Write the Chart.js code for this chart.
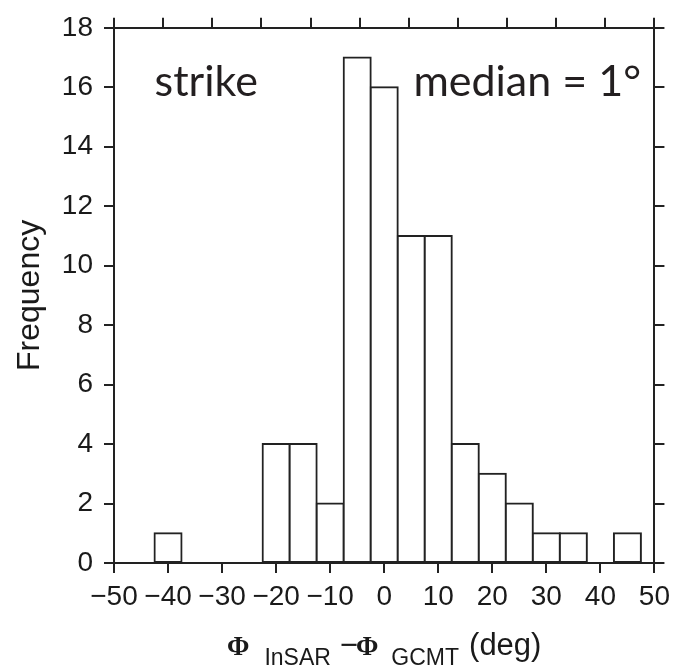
<!DOCTYPE html>
<html><head><meta charset="utf-8">
<script src="https://cdn.jsdelivr.net/npm/chart.js@4.4.1/dist/chart.umd.min.js"></script>
<style>html,body{margin:0;padding:0;background:#fff;}#wrap{width:677px;height:668px;}</style>
</head><body><div id="wrap"><canvas id="c" width="677" height="668"></canvas></div>
<script>
// ---- data ----
const binCenters  = [-40, -20, -15, -10, -5, 0, 5, 10, 15, 20, 25, 30, 35, 45];
const frequencies = [1, 4, 4, 2, 17, 16, 11, 11, 4, 3, 2, 1, 1, 1];
const xTicks = [-50, -40, -30, -20, -10, 0, 10, 20, 30, 40, 50];
const yTicks = [0, 2, 4, 6, 8, 10, 12, 14, 16, 18];
const yTitle = 'Frequency';
const xTitleParts = ['Φ', 'InSAR', '−Φ', 'GCMT', '(deg)'];
const annotationTexts = ['strike', 'median = 1°'];

const INK = '#1a1a1a';
const LINE = '#222';
const fmt = v => (v < 0 ? '\u2212' + Math.abs(v) : String(v));

const frameScale = (pos, ticksArr, min, max) => ({
  type: 'linear', position: pos, min: min, max: max,
  afterBuildTicks: s => { s.ticks = ticksArr.map(v => ({value: v})); },
  grid: {display: true, drawOnChartArea: false, drawTicks: true, tickLength: 10, color: LINE, lineWidth: 2},
  border: {display: true, color: LINE, width: 2},
  ticks: {display: false}
});

const xScale = frameScale('bottom', xTicks, -50, 50);
Object.assign(xScale, {
  offset: false,
  ticks: {display: true, autoSkip: false, maxRotation: 0, minRotation: 0, padding: 7,
          color: INK, font: {family: 'Liberation Sans', size: 28}, callback: v => fmt(v)},
  afterFit: s => { s.height = 105; }
});
xScale.grid.offset = false;
const x2Scale = frameScale('top', xTicks, -50, 50);
x2Scale.afterFit = s => { s.height = 21; };
const yScale = frameScale('left', yTicks, 0, 18);
Object.assign(yScale, {
  ticks: {display: true, padding: 11, color: INK, font: {family: 'Liberation Sans', size: 28}, callback: v => fmt(v)},
  title: {display: true, text: yTitle, color: INK, font: {family: 'Liberation Sans', size: 32}, padding: {top: 11, bottom: 0}},
  afterFit: s => { s.width = 114; }
});
const y2Scale = frameScale('right', yTicks, 0, 18);
y2Scale.afterFit = s => { s.width = 20; };

const textPlugin = {
  id: 'texts',
  afterDraw(chart) {
    const ctx = chart.ctx, xs = chart.scales.x, ys = chart.scales.y;
    ctx.save();
    ctx.fillStyle = '#231f20';
    ctx.textBaseline = 'alphabetic';
    ctx.textAlign = 'left';
    // annotations
    ctx.font = '43px Lato';
    ctx.fillText(annotationTexts[0], xs.getPixelForValue(-42.5), ys.getPixelForValue(15.72));
    ctx.fillText(annotationTexts[1], xs.getPixelForValue(5.4), ys.getPixelForValue(15.72));
    // x axis title with subscripts
    ctx.fillStyle = INK;
    const bottom = chart.chartArea.bottom;
    const mainBase = bottom + 92, subBase = bottom + 102;
    const serif = 'bold 27px "Liberation Serif"';
    const sans = '31px "Liberation Sans"';
    const sub = '23px "Liberation Sans"';
    const pieces = [
      {t: xTitleParts[0], f: serif, b: mainBase, gap: 15},
      {t: xTitleParts[1], f: sub, b: subBase, gap: 9},
      {t: xTitleParts[2][0], f: sans, b: mainBase, gap: -2},
      {t: xTitleParts[2].slice(1), f: serif, b: mainBase, gap: 13},
      {t: xTitleParts[3], f: sub, b: subBase, gap: 10},
      {t: xTitleParts[4], f: sans, b: mainBase, gap: 0}
    ];
    let total = 0;
    pieces.forEach(p => { ctx.font = p.f; p.w = ctx.measureText(p.t).width; total += p.w + p.gap; });
    let x = (chart.chartArea.left + chart.chartArea.right) / 2 - total / 2;
    pieces.forEach(p => { ctx.font = p.f; ctx.fillText(p.t, x, p.b); x += p.w + p.gap; });
    ctx.restore();
  }
};

new Chart(document.getElementById('c'), {
  type: 'bar',
  data: {
    datasets: [{
      data: binCenters.map((c, i) => ({x: c, y: frequencies[i]})),
      backgroundColor: '#ffffff',
      borderColor: LINE,
      borderWidth: 2,
      borderSkipped: false,
      inflateAmount: 1,
      barPercentage: 1.0,
      categoryPercentage: 1.0
    }]
  },
  options: {
    responsive: false,
    animation: false,
    layout: {padding: 0},
    plugins: {legend: {display: false}, tooltip: {enabled: false}},
    scales: {x: xScale, x2: x2Scale, y: yScale, y2: y2Scale}
  },
  plugins: [textPlugin]
});
</script>
</body></html>
